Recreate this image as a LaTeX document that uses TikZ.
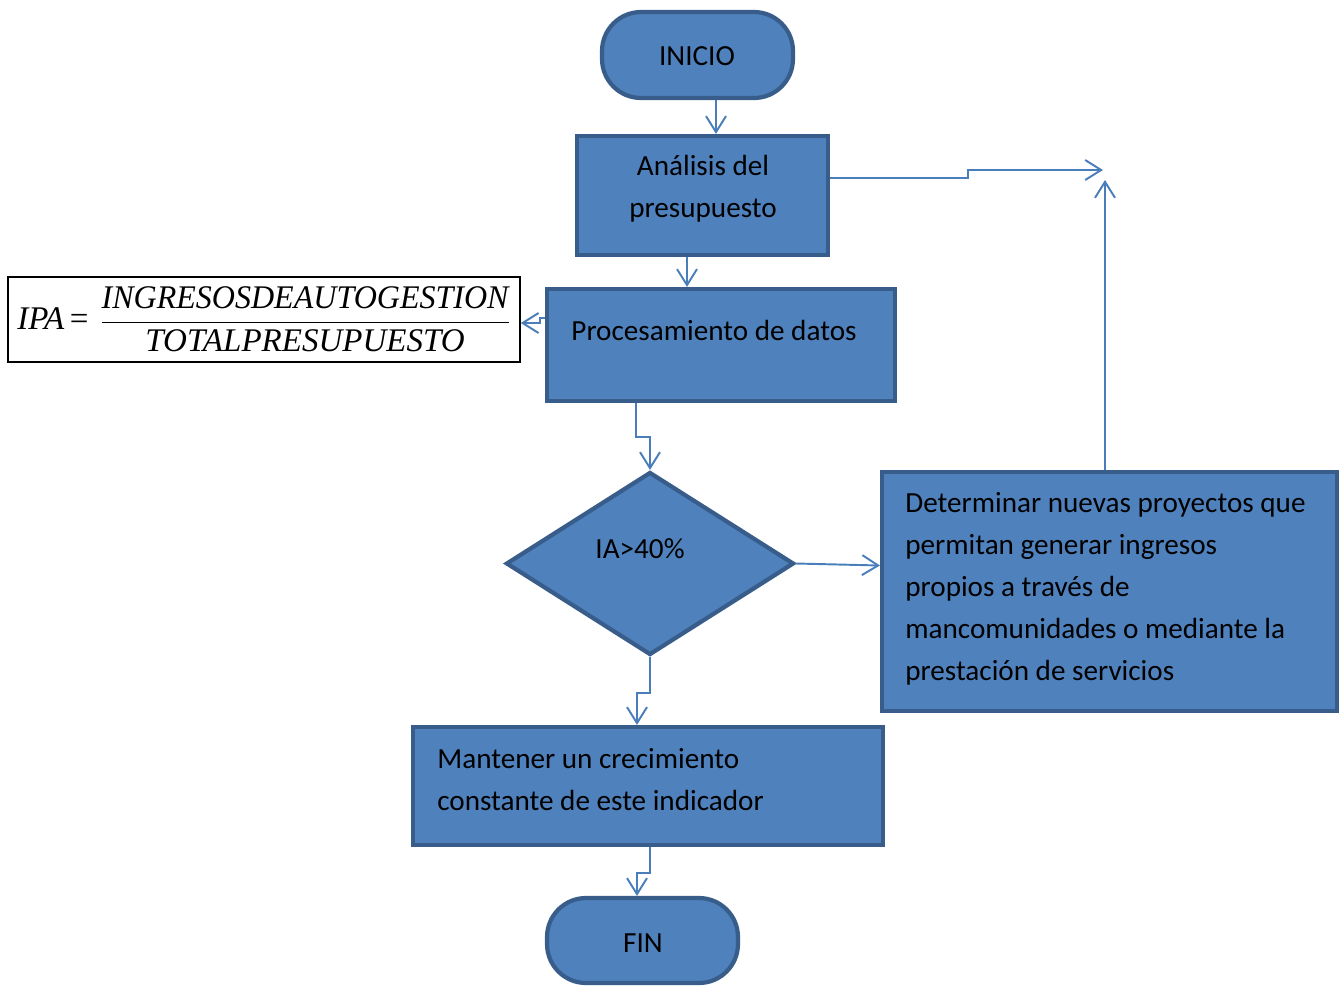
\documentclass[tikz,border=0pt]{standalone}
\usepackage{fontspec}
\setmainfont{Carlito}
\newfontfamily\timesfont{Liberation Serif}
\usetikzlibrary{arrows.meta,shapes.geometric}
\definecolor{fillblue}{HTML}{4F81BD}
\definecolor{edgeblue}{HTML}{385D8A}
\definecolor{linkblue}{HTML}{4A7EBB}
\tikzset{
  flowbox/.style={draw=edgeblue, fill=fillblue, line width=2.4pt, inner sep=0pt},
  termbox/.style={flowbox, rounded corners=0.78cm},
  decision/.style={flowbox, diamond, inner sep=0pt},
  lbl/.style={font=\fontsize{16.6}{23.9}\selectfont, text=black, inner sep=0pt},
  formulabox/.style={draw=black, line width=0.9pt, fill=white, inner sep=0pt},
  conn/.style={draw=linkblue, line width=1.1pt, -{Straight Barb[length=3.2mm,width=4mm]}},
}
\begin{document}
\begin{tikzpicture}[x=0.02cm,y=-0.02cm]
\useasboundingbox (0,0) rectangle (1343,985);
% shapes
\node[termbox, minimum width=3.82cm, minimum height=1.72cm] (inicio) at (697.5,55) {};
\node[flowbox, minimum width=5.02cm, minimum height=2.38cm] (analisis) at (702.5,195.5) {};
\node[flowbox, minimum width=6.96cm, minimum height=2.24cm] (proc) at (721,345) {};
\node[formulabox, minimum width=10.24cm, minimum height=1.7cm] (formula) at (264,319.5)
  {\fontsize{18.8}{22}\selectfont\timesfont\itshape IPA\,{\upshape =}\,\,$\displaystyle\frac{\hbox{\scalebox{0.97}[1]{\timesfont\itshape INGRESOSDEAUTOGESTION}}}{\hbox{\rule{0pt}{15.5pt}\timesfont\itshape TOTALPRESUPUESTO}}$};
\node[decision, minimum width=5.76cm, minimum height=3.66cm] (dia) at (650,563.5) {};
\node[flowbox, minimum width=9.1cm, minimum height=4.78cm] (right) at (1109.5,591.5) {};
\node[flowbox, minimum width=9.4cm, minimum height=2.36cm] (mant) at (648,786) {};
\node[termbox, minimum width=3.82cm, minimum height=1.7cm] (fin) at (642.5,940.5) {};
% texts
\node[lbl] (tinicio) at (697,56) {INICIO};
\node[lbl, align=center] (tanalisis) at (703,189) {Análisis del\\presupuesto};
\node[lbl] (tproc) at (714,330) {Procesamiento de datos};
\node[lbl] (tdia) at (640,549) {IA>40\%};
\node[lbl, align=left, anchor=west] (tright) at (905,589) {Determinar nuevas proyectos que\\permitan generar ingresos\\propios a través de\\mancomunidades o mediante la\\prestación de servicios};
\node[lbl, align=left, anchor=west] (tmant) at (437,780) {Mantener un crecimiento\\constante de este indicador};
\node[lbl] (tfin) at (643,943) {FIN};
% connector meeting points
\coordinate (meetright) at (1103,170);
\coordinate (meetup) at (1105,180);
% connectors
\draw[conn] ([xshift=0.37cm]inicio.south) -- ([xshift=0.37cm]inicio.south |- analisis.north);
\draw[conn] ([yshift=0.35cm]analisis.east) -- ++(138,0) |- (meetright);
\draw[conn] (right.north -| meetup) -- (meetup);
\draw[conn] ([xshift=-0.31cm]analisis.south) -- ([xshift=-0.31cm]analisis.south |- proc.north);
\draw[conn] ([yshift=0.54cm]proc.west) -- ++(-5,0) |- ([yshift=-0.07cm]formula.east);
\draw[conn] ([xshift=-1.7cm]proc.south) -- ++(0,34) -| (dia.north);
\draw[conn] (dia.east) -- ([yshift=-0.04cm]dia.east -| right.west);
\draw[conn] (dia.south) -- ++(0,36) -| ([xshift=-0.22cm]mant.north);
\draw[conn] ([xshift=0.04cm]mant.south) -- ++(0,26) -| ([xshift=-0.11cm]fin.north);
\end{tikzpicture}
\end{document}
